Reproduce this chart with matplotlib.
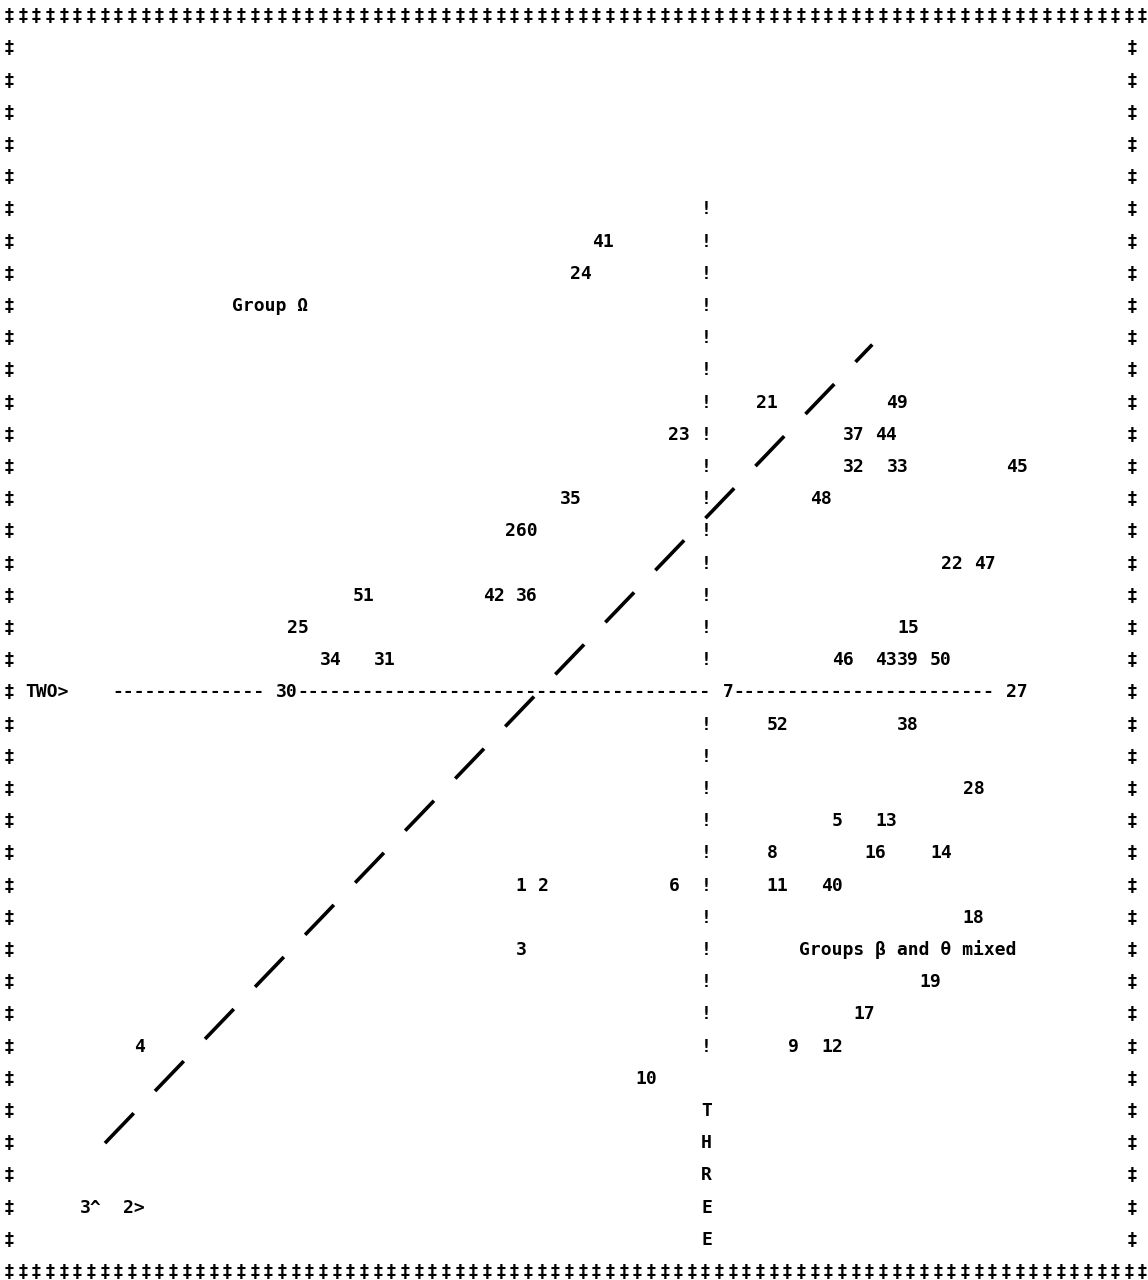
import numpy as np
import matplotlib.pyplot as plt

# case numbers and where the line printer put them (column, row)
case_labels = ["41", "24", "21", "49", "23", "37", "44", "32", "33", "45",
               "35", "48", "260", "22", "47", "51", "42", "36", "25", "15",
               "34", "31", "46", "43", "39", "50", "30", "7", "27", "52",
               "38", "28", "5", "13", "8", "16", "14", "1", "2", "6",
               "11", "40", "18", "3", "19", "17", "4", "9", "12", "10"]
case_cols = [54, 52, 69, 81, 61, 77, 80, 77, 81, 92,
             51, 74, 46, 86, 89, 32, 44, 47, 26, 82,
             29, 34, 76, 80, 82, 85, 25, 66, 92, 70,
             82, 88, 76, 80, 70, 79, 85, 47, 49, 61,
             70, 75, 88, 47, 84, 78, 12, 72, 75, 58]
case_rows = [7, 8, 12, 12, 13, 13, 13, 14, 14, 14,
             15, 15, 16, 17, 17, 18, 18, 18, 19, 19,
             20, 20, 20, 20, 20, 20, 21, 21, 21, 22,
             22, 24, 25, 25, 26, 26, 26, 27, 27, 27,
             27, 27, 28, 29, 30, 31, 32, 32, 32, 33]

# group captions
group_text = ["Group Ω", "Groups β and θ mixed"]
group_cols = [21, 73]
group_rows = [9, 29]

# axis of function TWO (row) and function THREE (column)
two_row = 21
two_dash_cols = (10, 90)
three_col = 64
three_bang_rows = (6, 32)

# boundary between the groups, ends in (column, row)
boundary_cols = [8.8, 79.2]
boundary_rows = [35.0, 10.2]

n_cols = 104
n_rows = 40

fig = plt.figure(figsize=(11.48, 12.8), dpi=100)
ax = fig.add_axes([0, 0, 1, 1])
ax.set_xlim(-0.83, 104.5)
ax.set_ylim(39.25, -0.5)
ax.axis("off")

# monospaced so that one character takes one column
font = dict(family="DejaVu Sans Mono", weight="bold", size=13,
            color="black", va="center")


def put(text, col, row):
    ax.text(col - 0.5, row, text, ha="left", **font)


# frame
for r in range(1, n_rows - 1):
    put("‡", 0, r)
    put("‡", n_cols - 1, r)
for x in np.linspace(0, 104, 84):
    ax.text(x, 0, "‡", ha="center", **font)
    ax.text(x, n_rows - 1, "‡", ha="center", **font)

# axis THREE (the TWO line runs through it)
for r in range(three_bang_rows[0], three_bang_rows[1] + 1):
    if r != two_row:
        put("!", three_col, r)
for i, ch in enumerate("THREE"):
    put(ch, three_col, 34 + i)

# axis TWO, broken where a case sits on it
taken = set()
for lab, c, r in zip(case_labels, case_cols, case_rows):
    if r == two_row:
        taken.update(range(c - 1, c + len(lab)))
dash_cols = [c for c in range(two_dash_cols[0], two_dash_cols[1] + 1)
             if c not in taken]
start = dash_cols[0]
for a, b in zip(dash_cols, dash_cols[1:] + [None]):
    if b != a + 1:
        put("-" * (a - start + 1), start, two_row)
        start = b
put("TWO>", 2, two_row)
put("3^", 7, 37)
put("2>", 11, 37)

# cases
for lab, c, r in zip(case_labels, case_cols, case_rows):
    put(lab, c, r)

for txt, c, r in zip(group_text, group_cols, group_rows):
    put(txt, c, r)

ax.plot(boundary_cols, boundary_rows, color="black", linewidth=2.6,
        dashes=(11.5, 8.5), dash_capstyle="butt")

fig.savefig("out.png", dpi=100, facecolor="white")
